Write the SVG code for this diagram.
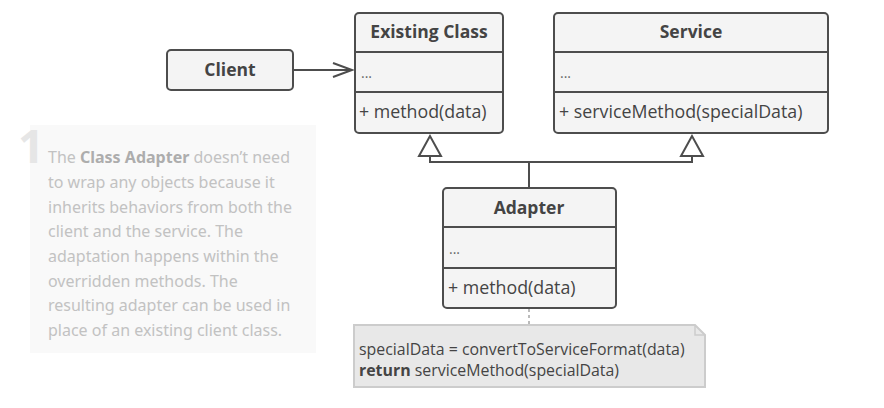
<svg xmlns="http://www.w3.org/2000/svg" width="884" height="408" viewBox="0 0 884 408">
<style>
.box{fill:#f4f4f4;stroke:#4d4d4d;stroke-width:2}
.div{stroke:#4d4d4d;stroke-width:2}
.title{font-family:"Open Sans","Liberation Sans",sans-serif;font-weight:bold;font-size:17.5px;fill:#444;text-anchor:middle}
.mem{font-family:"Open Sans","Liberation Sans",sans-serif;font-size:17.8px;fill:#444}
.dots{font-family:"Open Sans","Liberation Sans",sans-serif;font-size:14px;fill:#666}
.conn{fill:none;stroke:#4d4d4d;stroke-width:2}
.desc{font-family:"Noto Sans","Liberation Sans",sans-serif;font-size:16px;fill:#c2c2c2}
.note{font-family:"Open Sans","Liberation Sans",sans-serif;font-size:15.9px;fill:#444}
</style>
<rect x="0" y="0" width="884" height="408" fill="#ffffff"/>
<g id="description">
<rect x="30" y="125" width="286" height="228" fill="#f9f9f9"/>
<text x="18" y="163" font-family="Noto Sans, Liberation Sans, sans-serif" font-weight="bold" font-size="46" fill="#e6e6e6">1</text>
<text class="desc" x="48" y="163">The <tspan font-weight="bold" fill="#adadad">Class Adapter</tspan> doesn’t need</text>
<text class="desc" x="48" y="188">to wrap any objects because it</text>
<text class="desc" x="48" y="213">inherits behaviors from both the</text>
<text class="desc" x="48" y="237">client and the service. The</text>
<text class="desc" x="48" y="262">adaptation happens within the</text>
<text class="desc" x="48" y="287">overridden methods. The</text>
<text class="desc" x="48" y="311">resulting adapter can be used in</text>
<text class="desc" x="48" y="336">place of an existing client class.</text>
</g>
<g id="connectors">
<line class="conn" x1="293" y1="70" x2="352" y2="70"/>
<polyline class="conn" points="333,63 352,70 333,77"/>
<polyline class="conn" points="430,157 430,162 692,162 692,157"/>
<line class="conn" x1="529" y1="162" x2="529" y2="188"/>
<polygon points="430,136 419,156 441,156" fill="#ffffff" stroke="#4d4d4d" stroke-width="2"/>
<polygon points="692,136 681,156 703,156" fill="#ffffff" stroke="#4d4d4d" stroke-width="2"/>
<line x1="529" y1="309" x2="529" y2="324" stroke="#bbbbbb" stroke-width="2" stroke-dasharray="3,3"/>
</g>
<g id="client">
<rect class="box" x="167" y="50" width="126" height="40" rx="4"/>
<text class="title" x="230" y="76">Client</text>
</g>
<g id="existing-class">
<rect class="box" x="355" y="13" width="148" height="120" rx="4"/>
<line class="div" x1="355" y1="52" x2="503" y2="52"/>
<line class="div" x1="355" y1="92" x2="503" y2="92"/>
<text class="title" x="429" y="38">Existing Class</text>
<text class="dots" x="361" y="78">...</text>
<text class="mem" x="359" y="118">+ method(data)</text>
</g>
<g id="service">
<rect class="box" x="554" y="13" width="274" height="120" rx="4"/>
<line class="div" x1="554" y1="52" x2="828" y2="52"/>
<line class="div" x1="554" y1="92" x2="828" y2="92"/>
<text class="title" x="691" y="38">Service</text>
<text class="dots" x="560" y="78">...</text>
<text class="mem" x="559" y="118">+ serviceMethod(specialData)</text>
</g>
<g id="adapter">
<rect class="box" x="443" y="188" width="173" height="120" rx="4"/>
<line class="div" x1="443" y1="227" x2="616" y2="227"/>
<line class="div" x1="443" y1="268" x2="616" y2="268"/>
<text class="title" x="529" y="214">Adapter</text>
<text class="dots" x="449" y="254">...</text>
<text class="mem" x="448" y="294">+ method(data)</text>
</g>
<g id="note">
<path d="M354,325 L695,325 L705,335 L705,387 L354,387 Z" fill="#e8e8e8" stroke="#cccccc" stroke-width="2"/>
<path d="M695,325 L695,335 L705,335" fill="none" stroke="#cccccc" stroke-width="1.5"/>
<text class="note" x="359" y="355">specialData = convertToServiceFormat(data)</text>
<text class="note" x="359" y="376"><tspan font-weight="bold">return</tspan> serviceMethod(specialData)</text>
</g>
</svg>
